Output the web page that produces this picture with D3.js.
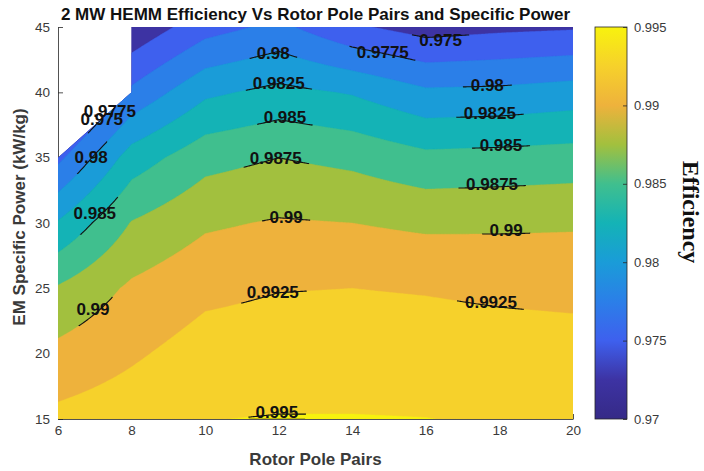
<!DOCTYPE html>
<html>
<head>
<meta charset="utf-8">
<script src="https://cdn.jsdelivr.net/npm/d3@7"></script>
<style>
  body { margin: 0; background: #fff; }
  svg { display: block; }
</style>
</head>
<body>
<svg id="chart" width="704" height="471"></svg>
<script>
// ---- data -------------------------------------------------------------
// Rotor pole pairs (columns) and EM specific power in kW/kg (rows)
const polePairs = [6, 8, 10, 12, 14, 16, 18, 20];
const specificPower = [15, 20, 25, 30, 35, 40, 45];

// Efficiency per specific-power row; null = design point not evaluated
const effAt15 = [0.99314, 0.99389, 0.99495, 0.99510, 0.99510, 0.99503, 0.99480, 0.99460];
const effAt20 = [0.99069, 0.99215, 0.99355, 0.99376, 0.99379, 0.99371, 0.99354, 0.99345];
const effAt25 = [0.98775, 0.99042, 0.99192, 0.99241, 0.99250, 0.99234, 0.99208, 0.99190];
const effAt30 = [0.98273, 0.98763, 0.98963, 0.99022, 0.99000, 0.98951, 0.98958, 0.98970];
const effAt35 = [0.97690, 0.98365, 0.98661, 0.98750, 0.98685, 0.98563, 0.98583, 0.98608];
const effAt40 = [null,    0.97803, 0.98200, 0.98320, 0.98229, 0.98045, 0.98060, 0.98114];
const effAt45 = [null,    0.97300, 0.97650, 0.97810, 0.97538, 0.97395, 0.97444, 0.97472];

// Contour levels and colorbar ticks
const contourLevels = [0.97, 0.9725, 0.975, 0.9775, 0.98, 0.9825, 0.985, 0.9875, 0.99, 0.9925, 0.995];
const colorbarTicks = [0.97, 0.975, 0.98, 0.985, 0.99, 0.995];
const xTicks = [6, 8, 10, 12, 14, 16, 18, 20];
const yTicks = [15, 20, 25, 30, 35, 40, 45];

// Inline contour labels: level, pole pairs, specific power
const labelLevel = [0.98, 0.9825, 0.985, 0.9875, 0.99, 0.9925, 0.995,
                    0.9775, 0.975, 0.98, 0.9825, 0.985, 0.9875, 0.99, 0.9925,
                    0.98, 0.985, 0.99, 0.9775, 0.975];
const labelPole  = [11.85, 12.00, 12.17, 11.92, 12.20, 11.84, 11.95,
                    14.83, 16.40, 17.67, 17.74, 18.04, 17.80, 18.18, 17.77,
                    6.90, 7.00, 6.95, 7.41, 7.19];
const labelPower = [43.0, 40.7, 38.1, 35.0, 30.5, 24.7, 15.55,
                    43.1, 44.0, 40.55, 38.4, 36.0, 33.0, 29.5, 23.95,
                    35.05, 30.8, 23.4, 38.6, 38.0];

// ---- styles -----------------------------------------------------------
// parula-like colours at each contour level
const levelColors = ['#352a87', '#3d33a3', '#3e60ee', '#2b7fe8', '#1a9cd8', '#14b3b6',
                     '#40bf8e', '#a2c03e', '#eeb23c', '#f6d12b', '#f8f20e'];
const inkColor = '#262626';
const sans = '"Liberation Sans", Arial, sans-serif';

const efficiency = [effAt15, effAt20, effAt25, effAt30, effAt35, effAt40, effAt45];

const plot = { left: 58, right: 573, top: 27, bottom: 419 };
const xs = d3.scaleLinear().domain([6, 20]).range([plot.left, plot.right]);
const ys = d3.scaleLinear().domain([15, 45]).range([plot.bottom, plot.top]);
const colorOf = d3.scaleOrdinal().domain(contourLevels).range(levelColors);

const svg = d3.select('#chart');
const defs = svg.append('defs');

// ---- fill missing grid points by extrapolating along each column -------
const filled = efficiency.map(r => r.slice());
for (let c = 0; c < polePairs.length; c++) {
  for (let r = 0; r < specificPower.length; r++) {
    if (filled[r][c] == null) filled[r][c] = 2 * filled[r - 1][c] - filled[r - 2][c];
  }
}

// bilinear interpolation of the design grid
function interp(x, y) {
  const c = Math.max(0, Math.min(polePairs.length - 2, d3.bisectRight(polePairs, x) - 1));
  const r = Math.max(0, Math.min(specificPower.length - 2, d3.bisectRight(specificPower, y) - 1));
  const tx = (x - polePairs[c]) / (polePairs[c + 1] - polePairs[c]);
  const ty = (y - specificPower[r]) / (specificPower[r + 1] - specificPower[r]);
  const v00 = filled[r][c], v10 = filled[r][c + 1], v01 = filled[r + 1][c], v11 = filled[r + 1][c + 1];
  return (1 - ty) * ((1 - tx) * v00 + tx * v10) + ty * ((1 - tx) * v01 + tx * v11);
}

const step = 0.04;
const x0 = d3.min(polePairs), x1 = d3.max(polePairs);
const y0 = d3.min(specificPower), y1 = d3.max(specificPower);
const nx = Math.round((x1 - x0) / step) + 1;
const ny = Math.round((y1 - y0) / step) + 1;
const values = new Float64Array(nx * ny);
for (let j = 0; j < ny; j++) {
  for (let i = 0; i < nx; i++) values[j * nx + i] = interp(x0 + i * step, y0 + j * step);
}
const contourGen = d3.contours().size([nx, ny]).smooth(true);
const gridToPixel = d3.geoTransform({
  point(gx, gy) {
    this.stream.point(xs(x0 + (gx - 0.5) * step), ys(y0 + (gy - 0.5) * step));
  }
});
const pathGen = d3.geoPath(gridToPixel);

// ---- valid-data clip (plot rectangle minus cells touching missing points)
const holes = [];
for (let r = 0; r < specificPower.length - 1; r++) {
  for (let c = 0; c < polePairs.length - 1; c++) {
    const corners = [[c, r], [c + 1, r], [c + 1, r + 1], [c, r + 1]];
    const missing = corners.filter(([cc, rr]) => efficiency[rr][cc] == null);
    if (missing.length === 0) continue;
    let poly;
    if (missing.length === 1) {
      const k = corners.findIndex(([cc, rr]) => efficiency[rr][cc] == null);
      poly = [corners[(k + 3) % 4], corners[k], corners[(k + 1) % 4]];
    } else {
      poly = corners;
    }
    holes.push(poly.map(([cc, rr]) => [xs(polePairs[cc]), ys(specificPower[rr])]));
  }
}
const rectPath = `M${plot.left},${plot.top}H${plot.right}V${plot.bottom}H${plot.left}Z`;
const holePath = holes.map(p => 'M' + p.map(q => q.join(',')).join('L') + 'Z').join('');
defs.append('clipPath').attr('id', 'validArea')
  .append('path').attr('d', rectPath + holePath).attr('clip-rule', 'evenodd');

// ---- axes (drawn beneath the filled contours) --------------------------
const xAxisG = svg.append('g')
  .attr('transform', `translate(0,${plot.bottom})`)
  .call(d3.axisBottom(xs).tickValues(xTicks).tickSize(-5).tickSizeOuter(0).tickPadding(6)
    .tickFormat(d3.format('d')));
const yAxisG = svg.append('g')
  .attr('transform', `translate(${plot.left},0)`)
  .call(d3.axisLeft(ys).tickValues(yTicks).tickSize(-5).tickSizeOuter(0).tickPadding(8)
    .tickFormat(d3.format('d')));
[xAxisG, yAxisG].forEach(g => {
  g.selectAll('path, line').attr('stroke', inkColor).attr('stroke-width', 0.8);
  g.selectAll('text').attr('fill', '#3a3a3a')
    .style('font-family', sans).style('font-size', '13.5px');
});

// ---- filled contours ----------------------------------------------------
const fillG = svg.append('g').attr('clip-path', 'url(#validArea)');
contourLevels.forEach(level => {
  const geom = contourGen.contour(values, level);
  fillG.append('path')
    .attr('d', pathGen(geom))
    .attr('fill', colorOf(level))
    .attr('stroke', colorOf(level))
    .attr('stroke-width', 0.4);
});

// ---- contour labels with their local line segments --------------------
const lineG = svg.append('g').attr('clip-path', 'url(#validArea)');
const textG = svg.append('g');
labelLevel.forEach((level, i) => {
  const cx = xs(labelPole[i]), cy = ys(labelPower[i]);
  const txt = textG.append('text')
    .attr('x', cx).attr('y', cy).attr('dy', '0.36em')
    .attr('text-anchor', 'middle')
    .style('font-family', sans)
    .style('font-weight', 'bold').style('font-size', '17px')
    .attr('fill', '#111')
    .text(String(level));
  const half = txt.node().getComputedTextLength() / 2;
  const id = 'lab' + i;
  defs.append('clipPath').attr('id', id)
    .append('ellipse').attr('cx', cx).attr('cy', cy).attr('rx', half + 8).attr('ry', half + 4);
  lineG.append('path')
    .attr('d', pathGen(contourGen.contour(values, level)))
    .attr('fill', 'none').attr('stroke', '#111').attr('stroke-width', 1.1)
    .attr('clip-path', `url(#${id})`);
});

// ---- titles -------------------------------------------------------------
svg.append('text')
  .attr('x', (plot.left + plot.right) / 2).attr('y', 20)
  .attr('text-anchor', 'middle')
  .style('font-family', sans).style('font-weight', 'bold').style('font-size', '17px')
  .attr('fill', '#111')
  .text('2 MW HEMM Efficiency Vs Rotor Pole Pairs and Specific Power');
svg.append('text')
  .attr('x', (plot.left + plot.right) / 2).attr('y', 465)
  .attr('text-anchor', 'middle')
  .style('font-family', sans).style('font-weight', 'bold').style('font-size', '17px')
  .attr('fill', '#3a3a3a')
  .text('Rotor Pole Pairs');
svg.append('text')
  .attr('transform', `translate(25,217) rotate(-90)`)
  .attr('text-anchor', 'middle')
  .style('font-family', sans).style('font-weight', 'bold').style('font-size', '17px')
  .attr('fill', '#3a3a3a')
  .text('EM Specific Power (kW/kg)');

// ---- colorbar -----------------------------------------------------------
const cb = { left: 595, width: 32 };
const cScale = d3.scaleLinear().domain([0.97, 0.995]).range([plot.bottom, plot.top]);
const grad = defs.append('linearGradient').attr('id', 'cbGrad')
  .attr('x1', 0).attr('y1', 1).attr('x2', 0).attr('y2', 0);
contourLevels.forEach(level => {
  grad.append('stop')
    .attr('offset', (level - 0.97) / 0.025)
    .attr('stop-color', colorOf(level));
});
svg.append('rect')
  .attr('x', cb.left).attr('y', plot.top)
  .attr('width', cb.width).attr('height', plot.bottom - plot.top)
  .attr('fill', 'url(#cbGrad)')
  .attr('stroke', inkColor).attr('stroke-width', 0.8);
const cbAxis = svg.append('g')
  .attr('transform', `translate(${cb.left + cb.width},0)`)
  .call(d3.axisRight(cScale).tickValues(colorbarTicks).tickSize(-4).tickSizeOuter(0).tickPadding(7)
    .tickFormat(d => String(+d.toFixed(4))));
cbAxis.select('.domain').remove();
cbAxis.selectAll('line').attr('stroke', inkColor).attr('stroke-width', 0.8);
cbAxis.selectAll('text').attr('fill', '#3a3a3a')
  .style('font-family', sans).style('font-size', '13px');

svg.append('text')
  .attr('transform', `translate(683,212) rotate(90)`)
  .attr('text-anchor', 'middle')
  .style('font-family', '"Liberation Serif", "Times New Roman", serif')
  .style('font-weight', 'bold').style('font-size', '24px')
  .attr('fill', '#111')
  .text('Efficiency');
</script>
</body>
</html>
